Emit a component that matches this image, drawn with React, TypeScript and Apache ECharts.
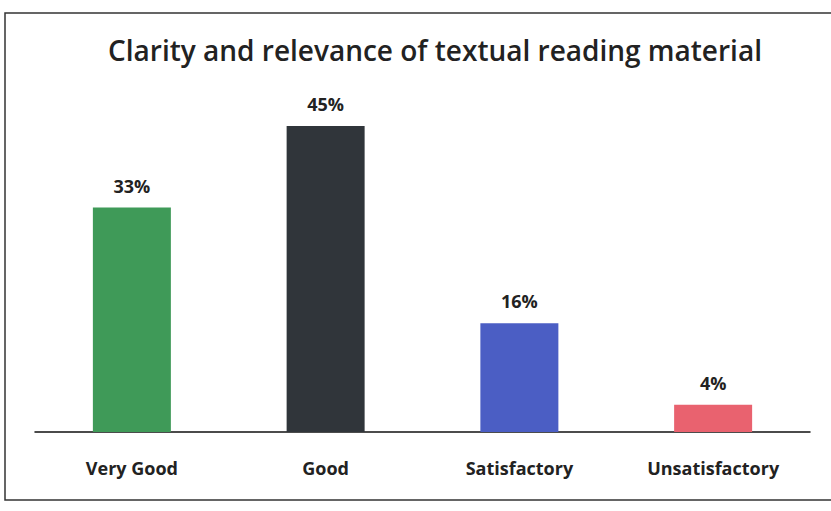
import React, { useEffect, useRef } from "react";
import * as echarts from "echarts";

const categories = ["Very Good", "Good", "Satisfactory", "Unsatisfactory"];
const values = [33, 45, 16, 4];
const barColors = ["#3f9a58", "#30353a", "#4b5ec4", "#e9626f"];

export default function App() {
  const ref = useRef<HTMLDivElement>(null);
  useEffect(() => {
    const chart = echarts.init(ref.current!, null, { renderer: "svg" });
    chart.setOption({
      animation: false,
      backgroundColor: "#fff",
      title: {
        text: "Clarity and relevance of textual reading material",
        left: 430,
        textAlign: "center",
        top: 31,
        textStyle: { fontFamily: "Open Sans", fontSize: 28, fontWeight: 600, color: "#222" },
      },
      graphic: [
        {
          type: "rect",
          shape: { x: 5, y: 13, width: 840, height: 487 },
          style: { fill: "none", stroke: "#333", lineWidth: 1.5 },
          silent: true,
        },
      ],
      grid: { left: 35, right: 21, top: 92, bottom: 79 },
      xAxis: {
        type: "category",
        data: categories,
        axisLine: { lineStyle: { color: "#111", width: 1.5 } },
        axisTick: { show: false },
        axisLabel: {
          margin: 27,
          fontFamily: "Open Sans",
          fontWeight: "bold",
          fontSize: 18,
          color: "#222",
        },
      },
      yAxis: { type: "value", min: 0, max: 50, show: false, splitLine: { show: false } },
      series: [
        {
          type: "bar",
          barWidth: 78,
          data: values.map((v, i) => ({ value: v, itemStyle: { color: barColors[i] } })),
          label: {
            show: true,
            position: "top",
            distance: 13,
            formatter: "{c}%",
            fontFamily: "Open Sans",
            fontWeight: "bold",
            fontSize: 18,
            color: "#222",
          },
        },
      ],
    });
    return () => chart.dispose();
  }, []);
  return <div ref={ref} style={{ width: 831, height: 511, position: "absolute", left: 0, top: 0 }} />;
}
